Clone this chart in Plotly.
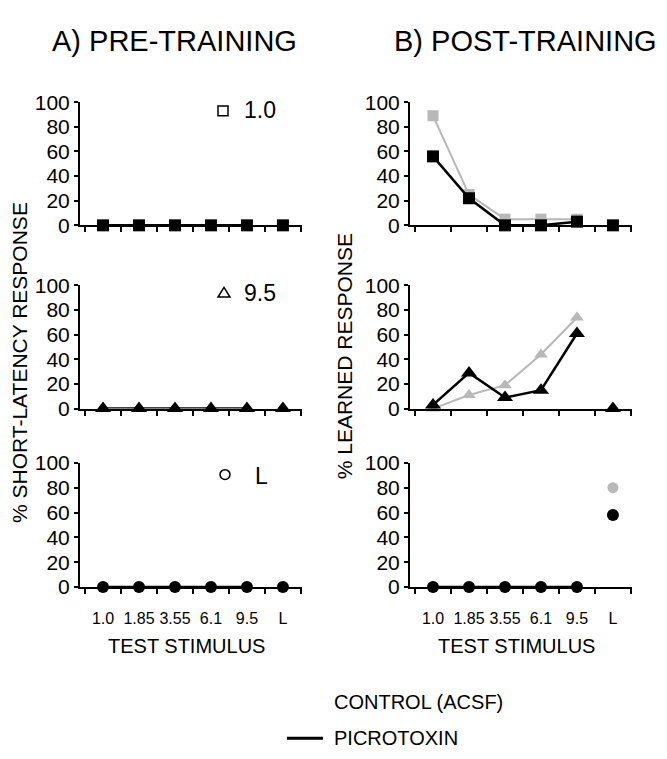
import plotly.graph_objects as go

# ---------------- data ----------------
categories = ["1.0", "1.85", "3.55", "6.1", "9.5", "L"]

# A) pre-training (picrotoxin)
pre_1_0 = [0, 0, 0, 0, 0, 0]
pre_9_5 = [0, 0, 0, 0, 0, 0]
pre_L = [0, 0, 0, 0, 0, 0]

# B) post-training
post_1_0_control = [89, 25, 5, 5, 5, None]
post_1_0_picro = [56, 22, 0, 0, 3, 0]
post_9_5_control = [0, 11, 19, 44, 74, None]
post_9_5_picro = [3, 29, 9, 15, 61, 0]
post_L_control = [0, 0, 0, 0, 0, 80]
post_L_picro = [0, 0, 0, 0, 0, 58]

y_ticks = [0, 20, 40, 60, 80, 100]

# ---------------- layout helpers ----------------
W, H = 667, 759
def px(x):
    return x / W
def py(y):
    return 1 - y / H

FONT = "Liberation Sans, Arial, Helvetica, sans-serif"
GRAY = "#b8b8b8"
BLACK = "#000000"

fig = go.Figure()

panels = [
    (1, "square", pre_1_0, None),
    (2, "square", post_1_0_picro, post_1_0_control),
    (3, "triangle-up", pre_9_5, None),
    (4, "triangle-up", post_9_5_picro, post_9_5_control),
    (5, "circle", pre_L, None),
    (6, "circle", post_L_picro, post_L_control),
]

def add_series(idx, symbol, vals, color, lw, msize):
    xa = "x" if idx == 1 else f"x{idx}"
    ya = "y" if idx == 1 else f"y{idx}"
    fig.add_trace(go.Scatter(
        x=categories[:5], y=vals[:5], mode="lines+markers",
        line=dict(color=color, width=lw),
        marker=dict(symbol=symbol, size=msize, color=color),
        xaxis=xa, yaxis=ya, cliponaxis=False, showlegend=False))
    fig.add_trace(go.Scatter(
        x=categories[5:], y=vals[5:], mode="markers",
        marker=dict(symbol=symbol, size=msize, color=color),
        xaxis=xa, yaxis=ya, cliponaxis=False, showlegend=False))

for idx, symbol, picro, control in panels:
    tri = symbol.startswith("triangle")
    if control is not None:
        add_series(idx, symbol, control, GRAY, 2, 12 if tri else 11)
    add_series(idx, symbol, picro, BLACK, 2.5, 14 if tri else 12)

x_left = [px(80), px(302)]
x_right = [px(410), px(632)]
y_rows = [[py(220), py(93)], [py(409), py(282)], [py(593), py(465)]]

layout = dict(
    width=W, height=H,
    margin=dict(l=0, r=0, t=0, b=0),
    paper_bgcolor="white", plot_bgcolor="white",
    font=dict(family=FONT, color="black"),
    showlegend=False,
)

for idx in range(1, 7):
    row = (idx - 1) // 2
    col = (idx - 1) % 2
    xk = "xaxis" if idx == 1 else f"xaxis{idx}"
    yk = "yaxis" if idx == 1 else f"yaxis{idx}"
    ya_ref = "y" if idx == 1 else f"y{idx}"
    xa_ref = "x" if idx == 1 else f"x{idx}"
    layout[xk] = dict(
        domain=x_left if col == 0 else x_right,
        anchor=ya_ref, type="category",
        categoryorder="array", categoryarray=categories,
        range=[-0.64, 5.53], tickson="boundaries",
        ticks="outside", ticklen=5, tickwidth=1.5, tickcolor="black",
        showline=True, linecolor="black", linewidth=2,
        showgrid=False, zeroline=False,
        showticklabels=(row == 2), tickangle=0,
        tickfont=dict(size=16, family=FONT, color="black"),
        ticklabelstandoff=16,
        fixedrange=True,
    )
    layout[yk] = dict(
        domain=y_rows[row], anchor=xa_ref,
        range=[0, 100], tickmode="array", tickvals=y_ticks,
        ticks="outside", ticklen=4, tickwidth=1.5, tickcolor="black",
        showline=True, linecolor="black", linewidth=2,
        showgrid=False, zeroline=False,
        tickfont=dict(size=21, family=FONT, color="black"),
        fixedrange=True,
    )

fig.update_layout(**layout)

annotations = [
    dict(text="A) PRE-TRAINING", x=px(175), y=py(30), size=29),
    dict(text="B) POST-TRAINING", x=px(525), y=py(30), size=29),
    dict(text="TEST STIMULUS", x=px(186), y=py(654), size=20),
    dict(text="TEST STIMULUS", x=px(516), y=py(654), size=20),
]
for a in annotations:
    fig.add_annotation(text=a["text"], x=a["x"], y=a["y"], xref="paper", yref="paper",
                       xanchor="center", yanchor="middle", showarrow=False,
                       font=dict(size=a["size"], family=FONT, color="black"))

fig.add_annotation(text="% SHORT-LATENCY RESPONSE", x=px(19), y=py(362), xref="paper", yref="paper",
                   textangle=-90, showarrow=False, xanchor="center", yanchor="middle",
                   font=dict(size=21, family=FONT, color="black"))
fig.add_annotation(text="% LEARNED RESPONSE", x=px(344), y=py(355), xref="paper", yref="paper",
                   textangle=-90, showarrow=False, xanchor="center", yanchor="middle",
                   font=dict(size=21, family=FONT, color="black"))

for txt, tx, ty in [("1.0", 242, 101), ("9.5", 242, 290), ("L", 253, 479)]:
    fig.add_annotation(text=txt, x=px(tx), y=py(ty), xref="paper", yref="paper",
                       xanchor="left", yanchor="middle", showarrow=False,
                       font=dict(size=23, family=FONT, color="black"))

shapes = []
shapes.append(dict(type="rect", xref="paper", yref="paper",
                   x0=px(218), x1=px(228), y0=py(107), y1=py(97),
                   line=dict(color="black", width=1.5), fillcolor="white"))
shapes.append(dict(type="path", xref="paper", yref="paper",
                   path=f"M {px(224)} {py(284)} L {px(218)} {py(294)} L {px(230)} {py(294)} Z",
                   line=dict(color="black", width=1.5), fillcolor="white"))
shapes.append(dict(type="circle", xref="paper", yref="paper",
                   x0=px(220), x1=px(230), y0=py(482), y1=py(472),
                   line=dict(color="black", width=1.5), fillcolor="white"))

fig.add_annotation(text="CONTROL (ACSF)", x=px(332), y=py(712), xref="paper", yref="paper",
                   xanchor="left", yanchor="middle", showarrow=False,
                   font=dict(size=20, family=FONT, color="black"))
fig.add_annotation(text="PICROTOXIN", x=px(332), y=py(749), xref="paper", yref="paper",
                   xanchor="left", yanchor="middle", showarrow=False,
                   font=dict(size=20, family=FONT, color="black"))
shapes.append(dict(type="line", xref="paper", yref="paper",
                   x0=px(287), x1=px(323), y0=py(749), y1=py(749),
                   line=dict(color="black", width=3)))

fig.update_layout(shapes=shapes)

fig.write_html("out.html")
